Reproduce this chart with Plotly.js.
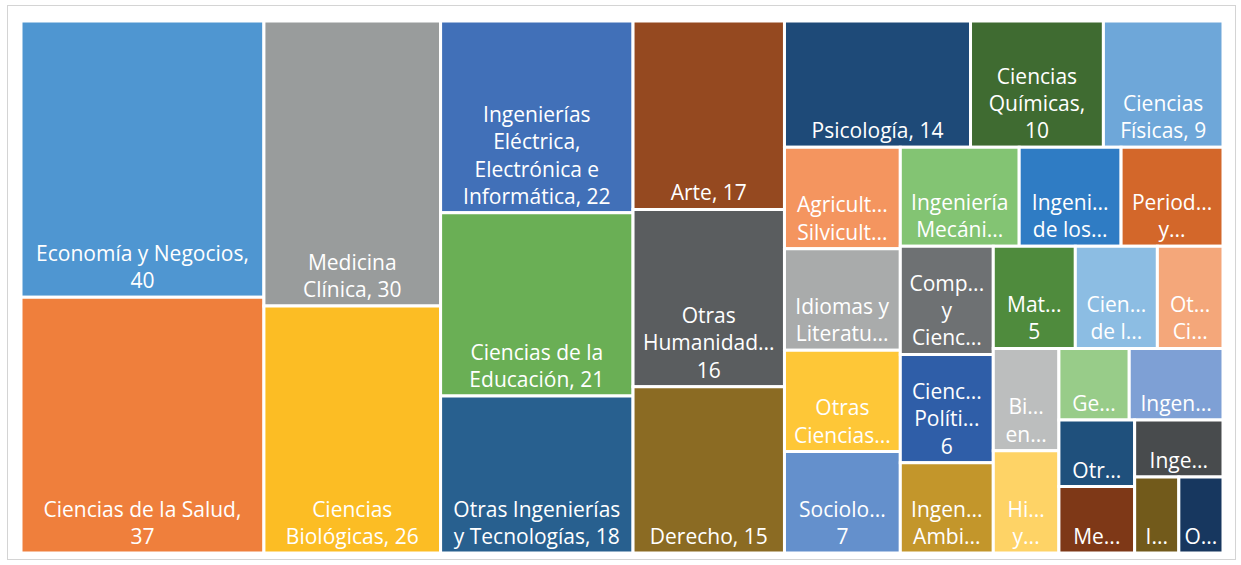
<!DOCTYPE html>
<html>
<head>
<meta charset="utf-8">
<script src="https://cdn.plot.ly/plotly-3.0.1.min.js"></script>
<style>
  html, body { margin: 0; padding: 0; background: #ffffff; }
  #wrap { position: relative; width: 1241px; height: 565px; }
  #chart { position: absolute; left: 0; top: 0; width: 1241px; height: 565px; }
  #frame { position: absolute; left: 7px; top: 5px; width: 1227px; height: 553px;
           border: 1.5px solid #d4d4d4; pointer-events: none; }
</style>
</head>
<body>
<div id="wrap">
  <div id="chart"></div>
  <div id="frame"></div>
</div>
<script>
// Field names (full) and counts, in the reference's tile order
const labels = [
  "Economía y Negocios", "Ciencias de la Salud", "Medicina Clínica", "Ciencias Biológicas",
  "Ingenierías Eléctrica, Electrónica e Informática", "Ciencias de la Educación",
  "Otras Ingenierías y Tecnologías", "Arte", "Otras Humanidades", "Derecho", "Psicología",
  "Ciencias Químicas", "Ciencias Físicas",
  "Agricultura y Silvicultura", "Idiomas y Literatura", "Otras Ciencias Sociales", "Sociología",
  "Ingeniería Mecánica", "Ingeniería de los Materiales", "Periodismo y Comunicaciones",
  "Computación y Ciencias de la Información", "Ciencias Políticas", "Ingeniería Ambiental",
  "Matemáticas", "Ciencias de la Tierra", "Otras Ciencias Naturales",
  "Biotecnología en Salud", "Historia y Arqueología",
  "Geografía", "Ingeniería Química",
  "Otras Ciencias Médicas", "Medicina Básica",
  "Ingeniería Civil", "Ingeniería Médica", "Otras Ciencias Agrícolas"
];
const values = [
  40, 37, 30, 26,
  22, 21,
  18, 17, 16, 15, 14,
  10, 9,
  7, 7, 7, 7,
  7, 6, 6,
  6, 6, 5,
  5, 5, 4,
  4, 4,
  3, 4,
  3, 3,
  3, 2, 2
];
// Text as it is displayed in each tile (Excel-style wrapping / truncation)
const tileText = [
  "Economía y Negocios,<br>40", "Ciencias de la Salud,<br>37", "Medicina<br>Clínica, 30", "Ciencias<br>Biológicas, 26",
  "Ingenierías<br>Eléctrica,<br>Electrónica e<br>Informática, 22", "Ciencias de la<br>Educación, 21",
  "Otras Ingenierías<br>y Tecnologías, 18", "Arte, 17", "Otras<br>Humanidad...<br>16", "Derecho, 15", "Psicología, 14",
  "Ciencias<br>Químicas,<br>10", "Ciencias<br>Físicas, 9",
  "Agricult...<br>Silvicult...", "Idiomas y<br>Literatu...", "Otras<br>Ciencias...", "Sociolo...<br>7",
  "Ingeniería<br>Mecáni...", "Ingeni...<br>de los...", "Period...<br>y...",
  "Comp...<br>y<br>Cienc...", "Cienc...<br>Políti...<br>6", "Ingen...<br>Ambi...",
  "Mat...<br>5", "Cien...<br>de l...", "Ot...<br>Ci...",
  "Bi...<br>en...", "Hi...<br>y...",
  "Ge...", "Ingen...",
  "Otr...", "Me...",
  "Inge...", "I...", "O..."
];
const tileColors = [
  "#4f96d1", "#ef7f3c", "#999c9c", "#fcbd24",
  "#4170b8", "#6aaf55", "#28608f", "#954920", "#5a5d5f", "#8b6b23", "#1e4a78",
  "#3f6b31", "#6ea7d9",
  "#f4955f", "#a9abab", "#fec737", "#6490cc",
  "#83c473", "#2f7cc4", "#d3672a",
  "#6e7173", "#2f5ea8", "#c3962b",
  "#4f8b3d", "#8cbde3", "#f4a77a",
  "#bcbebe", "#fed366",
  "#98cc89", "#7ea0d5",
  "#1f507c", "#7e3817",
  "#484b4d", "#725a1b", "#17375f"
];
const parents = labels.map(() => "");

const trace = {
  type: "treemap",
  labels: labels,
  parents: parents,
  values: values,
  text: tileText,
  textinfo: "text",
  texttemplate: "%{text}",
  textposition: "bottom center",
  sort: false,
  marker: { colors: tileColors, line: { width: 3, color: "#ffffff" },
            pad: { t: 0, l: 0, r: 0, b: 0 } },
  tiling: { packing: "squarify", squarifyratio: 1, pad: 0 },
  pathbar: { visible: false },
  insidetextfont: { family: "Open Sans, sans-serif", size: 21, color: "#ffffff" },
  hoverinfo: "label+value"
};

const layout = {
  width: 1241, height: 565,
  margin: { l: 21, r: 18, t: 21, b: 12 },
  paper_bgcolor: "#ffffff",
  uniformtext: { mode: "show", minsize: 21 },
  showlegend: false
};

Plotly.newPlot("chart", [trace], layout, { displayModeBar: false, staticPlot: true });
</script>
</body>
</html>
